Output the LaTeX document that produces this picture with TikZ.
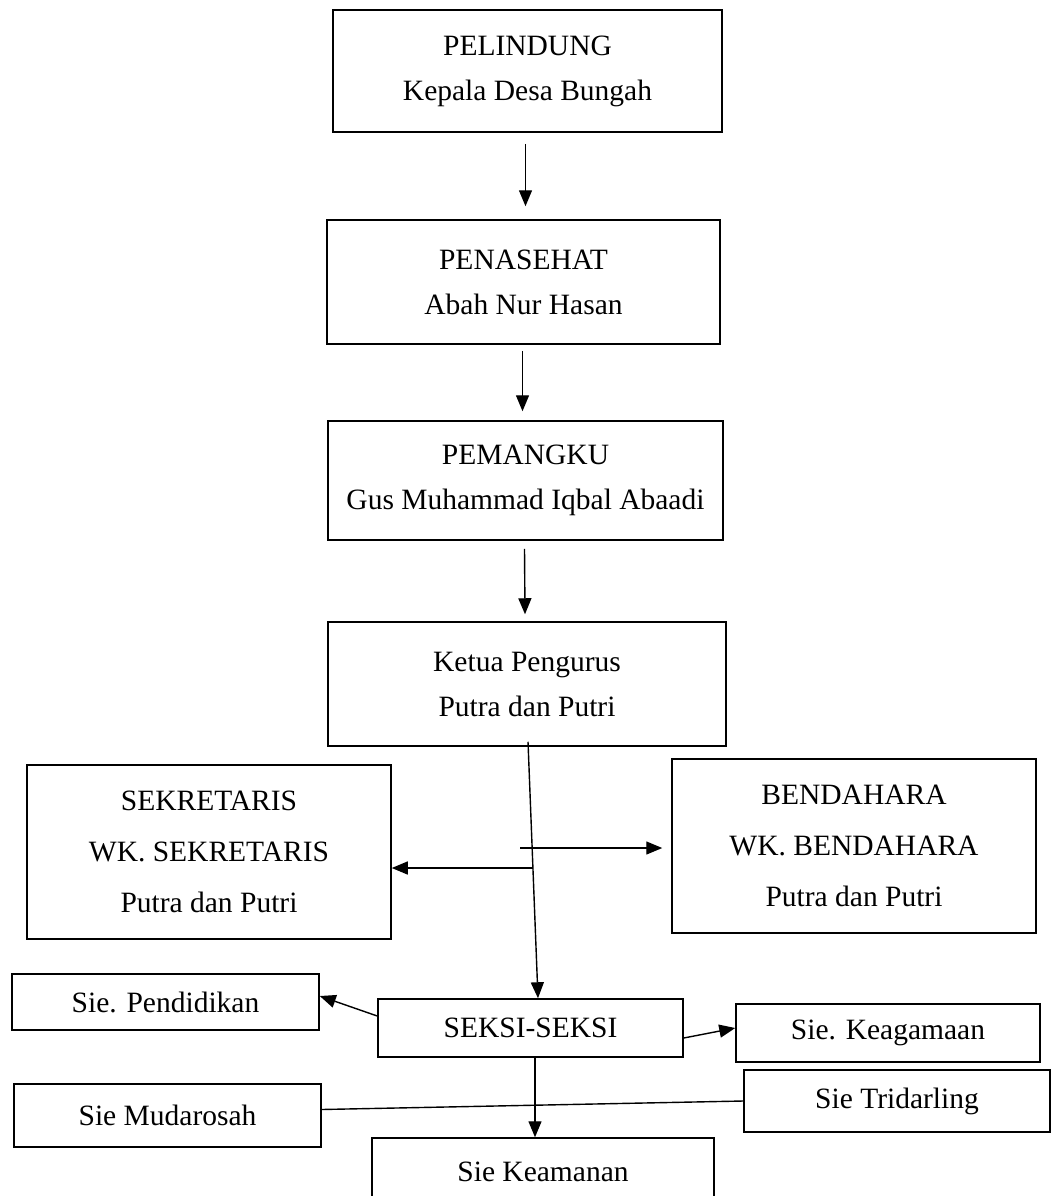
\documentclass[tikz,border=0pt]{standalone}
\usepackage{fontspec}
\setmainfont{Liberation Serif}
\usetikzlibrary{arrows.meta}

\begin{document}
\begin{tikzpicture}[x=1pt, y=-1pt,
    box/.style = {draw, line width=1.5pt, rectangle, align=center, inner sep=0pt,
                  font=\fontsize{29.5}{45}\selectfont},
    arr/.style = {line width=1.4pt, -{Triangle[length=16pt,width=13pt]}}]
    \path[use as bounding box, clip] (0,0) rectangle (1052,1196);
    \node[box, minimum width=389, minimum height=122](pelindung) at (527.5,71){PELINDUNG\\Kepala Desa Bungah};
    \node[box, minimum width=393, minimum height=124](penasehat) at (523.5,282){PENASEHAT\\Abah Nur Hasan};
    \node[box, minimum width=395, minimum height=119](pemangku) at (525.5,480.5){PEMANGKU\\Gus Muhammad Iqbal Abaadi};
    \node[box, minimum width=398, minimum height=124](ketua) at (527,684){Ketua Pengurus\\Putra dan Putri};
    \node[box, minimum width=364, minimum height=174](sekretaris) at (209,852){SEKRETARIS\\[6pt]WK. SEKRETARIS\\[6pt]Putra dan Putri};
    \node[box, minimum width=364, minimum height=174](bendahara) at (854,846){BENDAHARA\\[6pt]WK. BENDAHARA\\[6pt]Putra dan Putri};
    \node[box, minimum width=305, minimum height=58](seksi) at (530.5,1028){SEKSI-SEKSI};
    \node[box, minimum width=307, minimum height=56](pendidikan) at (165.5,1002){Sie. Pendidikan};
    \node[box, minimum width=304, minimum height=58](keagamaan) at (888,1033){Sie. Keagamaan};
    \node[box, minimum width=307, minimum height=63](mudarosah) at (167.5,1115.5){Sie Mudarosah};
    \node[box, minimum width=306, minimum height=62](tridarling) at (897,1101){Sie Tridarling};
    \node[box, minimum width=342, minimum height=68](keamanan) at (543,1172){Sie Keamanan};
    \coordinate (kiri) at (533,868);
    \coordinate (kanan) at (520,848);
    \draw[arr] ([xshift=-2pt,yshift=-11pt]pelindung.south) -- ([xshift=2pt,yshift=13pt]penasehat.north);
    \draw[arr] ([xshift=-1pt,yshift=-6pt]penasehat.south) -- ([xshift=-3pt,yshift=9pt]pemangku.north);
    \draw[arr] ([xshift=-1pt,yshift=-8pt]pemangku.south) -- ([xshift=-2pt,yshift=7pt]ketua.north);
    \draw[arr] ([xshift=1pt,yshift=5pt]ketua.south) -- ([xshift=7.5pt]seksi.north);
    \draw[arr] (kiri) -- ([yshift=-16pt]sekretaris.east);
    \draw[arr] (kanan) -- ([xshift=-9pt,yshift=-2pt]bendahara.west);
    \draw[arr] ([yshift=12pt]seksi.west) -- ([yshift=6pt]pendidikan.east);
    \draw[arr] ([yshift=-10pt]seksi.east) -- ([yshift=5pt]keagamaan.west);
    \draw[line width=1.4pt] ([yshift=6pt]mudarosah.east) -- (tridarling.west);
    \draw[arr] ([xshift=4.5pt]seksi.south) -- ([xshift=-8pt]keamanan.north);
\end{tikzpicture}
\end{document}
